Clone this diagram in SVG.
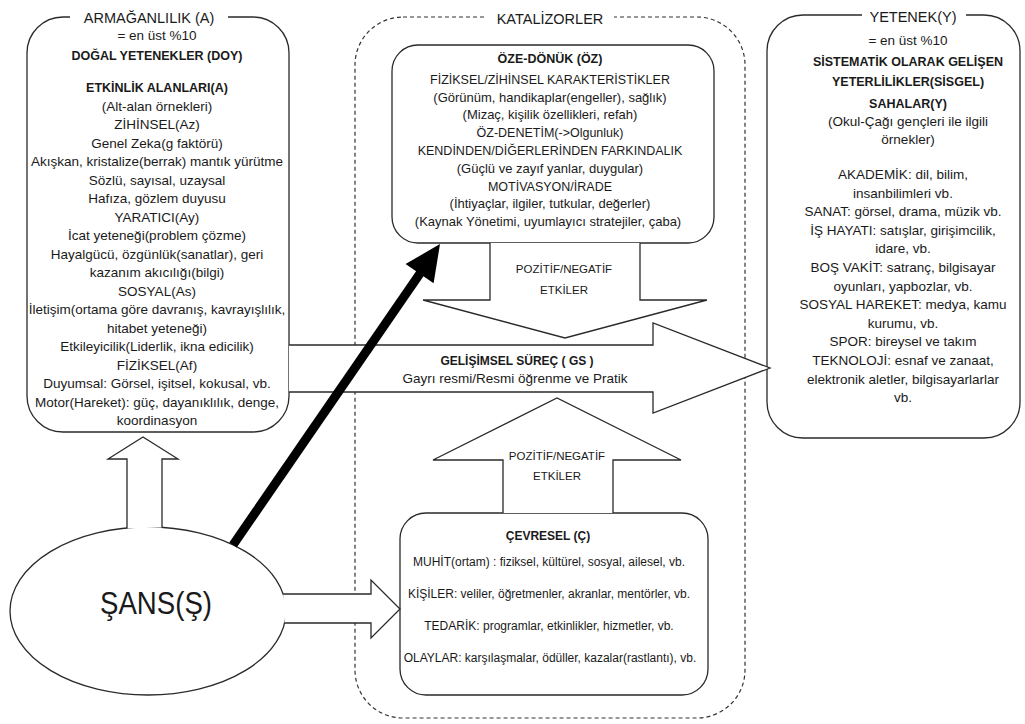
<svg xmlns="http://www.w3.org/2000/svg" width="1025" height="724" viewBox="0 0 1025 724">
<style>
text{font-family:"Liberation Sans",Arial,sans-serif;fill:#1a1a1a;text-anchor:middle}
.t{font-size:14.5px}
.l{font-size:13.5px}
.b{font-weight:bold;font-size:12.5px}
.s{font-size:13px}
.c{font-size:12.5px}
.e{font-size:12px}
.p{font-size:11.5px}
.box{fill:#fff;stroke:#2a2a2a;stroke-width:1.3}
.blk{fill:#fff;stroke:#2a2a2a;stroke-width:1.3;stroke-linejoin:miter}
.gap{fill:#fff;stroke:none}
</style>
<rect width="1025" height="724" fill="#fff"/>

<g id="katalizorler">
<rect x="355" y="17" width="390" height="701" rx="48" fill="none" stroke="#333" stroke-width="1.2" stroke-dasharray="4 3"/>
<rect class="gap" x="486" y="8" width="128" height="20"/>
<text class="t" x="550" y="24">KATALİZORLER</text>
</g>

<g id="armaganlilik">
<rect class="box" x="27" y="17" width="262" height="415" rx="36"/>
<rect class="gap" x="70" y="6" width="158" height="22"/>
<text class="t" x="149" y="23">ARMAĞANLILIK (A)</text>
<text class="l" x="157" y="40">= en üst %10</text>
<text class="b" x="157" y="60">DOĞAL YETENEKLER (DOY)</text>
<text class="b" x="157" y="92">ETKİNLİK ALANLARI(A)</text>
<text class="l" x="157" y="110.5">(Alt-alan örnekleri)</text>
<text class="l" x="157" y="129">ZİHİNSEL(Az)</text>
<text class="l" x="157" y="147.5">Genel Zeka(g faktörü)</text>
<text class="l" x="157" y="166">Akışkan, kristalize(berrak) mantık yürütme</text>
<text class="l" x="157" y="184.5">Sözlü, sayısal, uzaysal</text>
<text class="l" x="157" y="203">Hafıza, gözlem duyusu</text>
<text class="l" x="157" y="221.5">YARATICI(Ay)</text>
<text class="l" x="157" y="240">İcat yeteneği(problem çözme)</text>
<text class="l" x="157" y="258.5">Hayalgücü, özgünlük(sanatlar), geri</text>
<text class="l" x="157" y="277">kazanım akıcılığı(bilgi)</text>
<text class="l" x="157" y="295.5">SOSYAL(As)</text>
<text class="l" x="157" y="314">İletişim(ortama göre davranış, kavrayışlılık,</text>
<text class="l" x="157" y="332.5">hitabet yeteneği)</text>
<text class="l" x="157" y="351">Etkileyicilik(Liderlik, ikna edicilik)</text>
<text class="l" x="157" y="369.5">FİZİKSEL(Af)</text>
<text class="l" x="157" y="388">Duyumsal: Görsel, işitsel, kokusal, vb.</text>
<text class="l" x="157" y="406.5">Motor(Hareket): güç, dayanıklılık, denge,</text>
<text class="l" x="157" y="425">koordinasyon</text>
</g>

<g id="yetenek">
<rect class="box" x="767" y="15" width="253" height="423" rx="36"/>
<rect class="gap" x="862" y="4" width="104" height="22"/>
<text class="t" x="913" y="22">YETENEK(Y)</text>
<text class="l" x="908" y="45">= en üst %10</text>
<text class="b" x="908" y="66">SİSTEMATİK OLARAK GELİŞEN</text>
<text class="b" x="908" y="86">YETERLİLİKLER(SİSGEL)</text>
<text class="b" x="908" y="108">SAHALAR(Y)</text>
<text class="l" x="908" y="126">(Okul-Çağı gençleri ile ilgili</text>
<text class="l" x="908" y="144">örnekler)</text>
<text class="l" x="903" y="179">AKADEMİK: dil, bilim,</text>
<text class="l" x="903" y="197.6">insanbilimleri vb.</text>
<text class="l" x="903" y="216.2">SANAT: görsel, drama, müzik vb.</text>
<text class="l" x="903" y="234.8">İŞ HAYATI: satışlar, girişimcilik,</text>
<text class="l" x="903" y="253.4">idare, vb.</text>
<text class="l" x="903" y="272">BOŞ VAKİT: satranç, bilgisayar</text>
<text class="l" x="903" y="290.6">oyunları, yapbozlar, vb.</text>
<text class="l" x="903" y="309.2">SOSYAL HAREKET: medya, kamu</text>
<text class="l" x="903" y="327.8">kurumu, vb.</text>
<text class="l" x="903" y="346.4">SPOR: bireysel ve takım</text>
<text class="l" x="903" y="365">TEKNOLOJİ: esnaf ve zanaat,</text>
<text class="l" x="903" y="383.6">elektronik aletler, bilgisayarlarlar</text>
<text class="l" x="903" y="402.2">vb.</text>
</g>

<g id="oze-donuk">
<rect class="box" x="392" y="45" width="322" height="198" rx="26"/>
<text class="b" x="550" y="63">ÖZE-DÖNÜK (ÖZ)</text>
<text class="c" x="550" y="84">FİZİKSEL/ZİHİNSEL KARAKTERİSTİKLER</text>
<text class="s" x="550" y="102">(Görünüm, handikaplar(engeller), sağlık)</text>
<text class="s" x="550" y="119">(Mizaç, kişilik özellikleri, refah)</text>
<text class="c" x="550" y="137">ÖZ-DENETİM(-&gt;Olgunluk)</text>
<text class="c" x="550" y="155">KENDİNDEN/DİĞERLERİNDEN FARKINDALIK</text>
<text class="s" x="550" y="173">(Güçlü ve zayıf yanlar, duygular)</text>
<text class="c" x="550" y="191">MOTİVASYON/İRADE</text>
<text class="s" x="550" y="208">(İhtiyaçlar, ilgiler, tutkular, değerler)</text>
<text class="s" x="548" y="226">(Kaynak Yönetimi, uyumlayıcı stratejiler, çaba)</text>
</g>

<g id="cevresel">
<rect class="box" x="400" y="513" width="308" height="182" rx="26"/>
<text class="b" x="548" y="540" style="font-size:12px">ÇEVRESEL (Ç)</text>
<text class="e" x="549" y="566">MUHİT(ortam) : fiziksel, kültürel, sosyal, ailesel, vb.</text>
<text class="e" x="549" y="598">KİŞİLER: veliler, öğretmenler, akranlar, mentörler, vb.</text>
<text class="e" x="549" y="630">TEDARİK: programlar, etkinlikler, hizmetler, vb.</text>
<text class="e" x="550" y="662">OLAYLAR: karşılaşmalar, ödüller, kazalar(rastlantı), vb.</text>
</g>

<g id="sans">
<ellipse class="box" cx="148" cy="611" rx="138" ry="84"/>
<text x="156" y="614" style="font-size:31px" textLength="112" lengthAdjust="spacingAndGlyphs">ŞANS(Ş)</text>
</g>

<g id="connectors">
<path class="blk" d="M289,345 H653 V323 L770,368 L653,413 V392 H289"/>
<path class="blk" d="M490,243 V300 H423 L565,338 L707,300 H640 V243"/>
<path class="blk" d="M503,513 V460 H433 L557,398 L681,460 H613 V513"/>
<path class="blk" d="M127,528.4 V459 H108 L143,437 L178,459 H162 V527.4"/>
<path class="blk" d="M283.1,594 H371 V580 L400,609 L371,638 V623 H284.6"/>
<line x1="233" y1="545" x2="421" y2="272" stroke="#000" stroke-width="9"/>
<polygon points="440,244 433.6,283.3 405.6,264.1" fill="#000"/>
<text class="b" x="517" y="365" style="font-size:12px">GELİŞİMSEL SÜREÇ ( GS )</text>
<text class="l" x="515" y="383">Gayrı resmi/Resmi öğrenme ve Pratik</text>
<text class="p" x="564" y="273">POZİTİF/NEGATİF</text>
<text class="p" x="564" y="294">ETKİLER</text>
<text class="p" x="557" y="460">POZİTİF/NEGATİF</text>
<text class="p" x="557" y="480">ETKİLER</text>
</g>
</svg>
